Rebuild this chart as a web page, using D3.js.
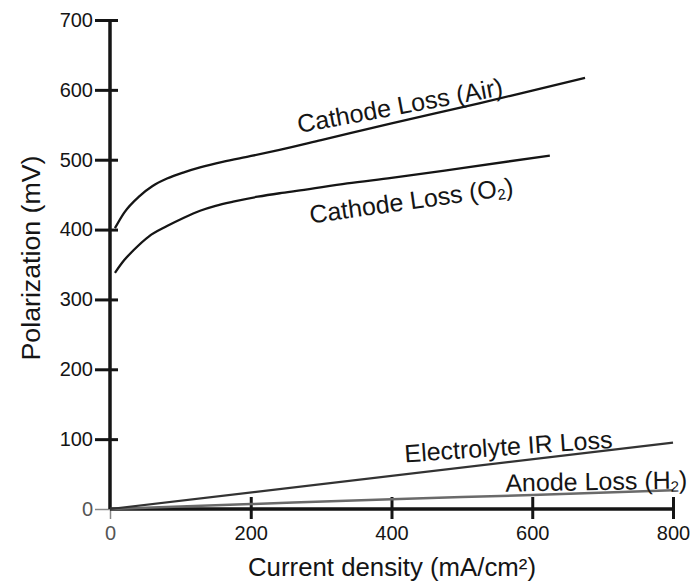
<!DOCTYPE html>
<html>
<head>
<meta charset="utf-8">
<script src="https://cdn.jsdelivr.net/npm/d3@7"></script>
<style>
  html, body { margin: 0; padding: 0; background: #fff; }
  svg { display: block; font-family: "Liberation Sans", Arial, sans-serif; }
</style>
</head>
<body>
<svg id="chart" width="692" height="583"></svg>
<script>
// ---- data ----
const xTickValues = [0, 200, 400, 600, 800];
const yTickValues = [0, 100, 200, 300, 400, 500, 600, 700];

const currentAir = [7, 20, 42, 60, 81, 105, 128, 160, 199, 241, 300, 400, 526, 600, 675];
const lossAir    = [402, 424, 448, 462, 473, 482, 489, 497, 505, 514, 528, 552, 581, 599, 617];

const currentO2 = [7, 20, 33, 55, 81, 105, 128, 150, 175, 210, 241, 270, 337, 400, 500, 625];
const lossO2    = [338, 356, 370, 390, 405, 417, 427, 434, 440, 447, 452, 456, 466, 474, 488, 506];

const currentIR = [0, 800];
const lossIR    = [0, 95];

const currentH2 = [0, 200, 400, 600, 800];
const lossH2    = [0, 7, 14, 20, 27];

const xTitle = "Current density (mA/cm²)";
const yTitle = "Polarization (mV)";

// label anchors in data units
const labelAir = { main: "Cathode Loss (Air)", sub: "", tail: "", x: 412, y: 578, angle: -10.5 };
const labelO2  = { main: "Cathode Loss (O", sub: "2", tail: ")", x: 428, y: 442, angle: -8 };
const labelIR  = { main: "Electrolyte IR Loss", sub: "", tail: "", x: 566, y: 90, angle: -4 };
const labelH2  = { main: "Anode Loss (H", sub: "2", tail: ")", x: 691, y: 40, angle: -1 };

// ---- drawing ----
const svg = d3.select("#chart");
const x = d3.scaleLinear().domain([0, 800]).range([110, 673]);
const y = d3.scaleLinear().domain([0, 700]).range([509, 20]);

const ink = "#151515";

// Y axis (ticks crossing the axis)
const gy = svg.append("g").attr("transform", `translate(${x(0)},0)`)
  .call(d3.axisLeft(y).tickValues(yTickValues).tickSize(15).tickPadding(2).tickFormat(d3.format("d")));
gy.select(".domain").remove();
gy.selectAll("text").attr("font-size", 20).attr("fill", ink).attr("font-family", null);
gy.selectAll("line").attr("stroke", ink).attr("stroke-width", 3);
gy.selectAll(".tick").filter(d => d === 0).select("line").attr("stroke", "#888").attr("stroke-width", 1.5);
gy.selectAll(".tick").filter(d => d === 0).select("text").attr("fill", "#555");

const gy2 = svg.append("g").attr("transform", `translate(${x(0)},0)`)
  .call(d3.axisRight(y).tickValues(yTickValues.filter(d => d > 0)).tickSize(8).tickFormat(""));
gy2.select(".domain").remove();
gy2.selectAll("line").attr("stroke", ink).attr("stroke-width", 3);

// X axis (ticks crossing the axis)
const gx = svg.append("g").attr("transform", `translate(0,${y(0)})`)
  .call(d3.axisBottom(x).tickValues(xTickValues).tickSize(10).tickPadding(7).tickFormat(d3.format("d")));
gx.select(".domain").remove();
gx.selectAll("text").attr("font-size", 20).attr("fill", ink).attr("font-family", null);
gx.selectAll("line").attr("stroke", ink).attr("stroke-width", 3);
gx.selectAll(".tick").filter(d => d === 0).select("line").attr("stroke", "#888").attr("stroke-width", 1.5);
gx.selectAll(".tick").filter(d => d === 0).select("text").attr("fill", "#555");

const gx2 = svg.append("g").attr("transform", `translate(0,${y(0)})`)
  .call(d3.axisTop(x).tickValues(xTickValues.filter(d => d > 0)).tickSize(12).tickFormat(""));
gx2.select(".domain").remove();
gx2.selectAll("line").attr("stroke", ink).attr("stroke-width", 3);

// axis lines
svg.append("line").attr("x1", x(0)).attr("x2", x(0)).attr("y1", y(700)).attr("y2", y(0))
  .attr("stroke", ink).attr("stroke-width", 3.5);
svg.append("line").attr("x1", x(0)).attr("x2", x(800)).attr("y1", y(0)).attr("y2", y(0))
  .attr("stroke", ink).attr("stroke-width", 3.5);

// series
const line = d3.line().x(d => x(d[0])).y(d => y(d[1])).curve(d3.curveMonotoneX);
function draw(xs, ys, color, w) {
  svg.append("path")
    .datum(xs.map((v, i) => [v, ys[i]]))
    .attr("d", line)
    .attr("fill", "none")
    .attr("stroke", color)
    .attr("stroke-width", w);
}
draw(currentH2, lossH2, "#6a6a6a", 2.5);
draw(currentIR, lossIR, "#333", 2.2);
draw(currentO2, lossO2, ink, 2.3);
draw(currentAir, lossAir, ink, 2.3);

// series labels
function label(L) {
  const t = svg.append("text")
    .attr("transform", `translate(${x(L.x)},${y(L.y)}) rotate(${L.angle})`)
    .attr("text-anchor", "middle")
    .attr("dominant-baseline", "central")
    .attr("font-size", 25)
    .attr("fill", ink);
  t.append("tspan").text(L.main);
  if (L.sub) {
    t.append("tspan").attr("font-size", 15).attr("dy", 6).text(L.sub);
    t.append("tspan").attr("dy", -6).text(L.tail);
  }
}
[labelAir, labelO2, labelIR, labelH2].forEach(label);

// axis titles
svg.append("text")
  .attr("x", 392).attr("y", 567)
  .attr("text-anchor", "middle").attr("dominant-baseline", "central")
  .attr("font-size", 25).attr("fill", ink)
  .attr("textLength", 288).attr("lengthAdjust", "spacingAndGlyphs")
  .text(xTitle);

svg.append("text")
  .attr("transform", "translate(31,258) rotate(-90)")
  .attr("text-anchor", "middle").attr("dominant-baseline", "central")
  .attr("font-size", 25).attr("fill", ink)
  .attr("textLength", 205).attr("lengthAdjust", "spacingAndGlyphs")
  .text(yTitle);
</script>
</body>
</html>
